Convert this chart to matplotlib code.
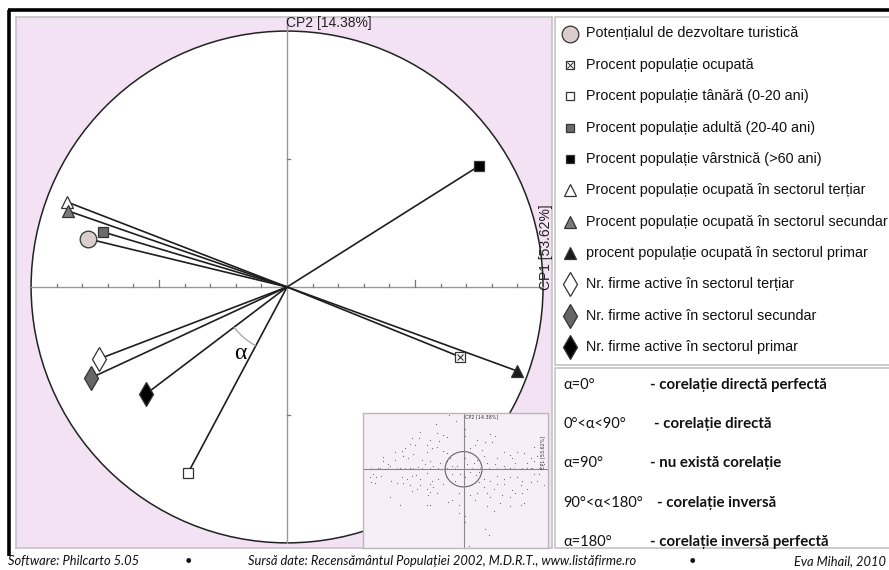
import math
import numpy as np
import matplotlib
matplotlib.use('Agg')
import matplotlib.pyplot as plt
from matplotlib.patches import Circle, Arc, Rectangle

# variabile (in ordinea din legenda)
variabile = ['Potențialul de dezvoltare turistică',
             'Procent populație ocupată',
             'Procent populație tânără (0-20 ani)',
             'Procent populație adultă (20-40 ani)',
             'Procent populație vârstnică (>60 ani)',
             'Procent populație ocupată în sectorul terțiar',
             'Procent populație ocupată în sectorul secundar',
             'procent populație ocupată în sectorul primar',
             'Nr. firme active în sectorul terțiar',
             'Nr. firme active în sectorul secundar',
             'Nr. firme active în sectorul primar']
cp1 = [-0.777, 0.676, -0.387, -0.719, 0.750, -0.859, -0.855, 0.898, -0.734, -0.766, -0.551]
cp2 = [0.188, -0.273, -0.727, 0.215, 0.473, 0.332, 0.297, -0.328, -0.281, -0.355, -0.418]

axa1 = 'CP1 [53.62%]'
axa2 = 'CP2 [14.38%]'

# norul de indivizi din fereastra mica (unitati ale ferestrei)
ind_x = [-42, -22, -82, -130, -155, -132, -78, -62, -50, -72, -100, -160, -175, -205, -185,
         -240, -240, -205, -165, -150, -110, -95, -60, -50, -125, -100, -70, -90, -115, -137,
         -160, -190, -220, -255, -270, -280, -260, -245, -275, -265, -185, -155, -142, -130,
         -110, -95, -75, -50, -35, -20, -10, -25, -60, -90, -110, -100, -80, -105, -140, -160,
         -155, -180, -220, -190, -110, -100, -45, -35, -15, -15, -15, 5, 5, 15, 65, 75, 70, 70,
         90, 115, 40, 35, 20, 45, 60, 38, 45, 20, 5, 10, 5, 5, 5, 20, 35, 55, 45, 60, 80, 95,
         85, 65, 40, 70, 100, 120, 95, 120, 140, 145, 160, 180, 200, 210, 220, 190, 155, 140,
         170, 205, 230, 240, 210, 100, 120, 140, 160, 175, 200, 220, 240, 190, 170, 155, 175,
         145, 120, 100, 80, 60, 180, 170, 140, 110, 90, 80, 140, 190, 210, 225, -235, -225,
         -35, -50, -55, -40, 30, 40, -145, -110, -80, -180, -170, -130, -100, -200, -215]
ind_y = [170, 150, 142, 115, 97, 97, 113, 107, 100, 87, 90, 80, 65, 53, 57,
         37, 25, 30, 35, 47, 55, 65, 57, 50, 30, 25, 20, 10, 15, 7,
         5, 3, 10, 3, -15, -25, -23, -20, -40, -43, -25, -20, -17, -30,
         -13, -35, -30, -25, -15, 10, -15, -35, -45, -55, -60, -70, -75, -80, -60, -50,
         -67, -43, -85, -110, -110, -110, -103, -95, -75, -110, -135, -145, -165, -240, -185, -205, -115, -75,
         -60, -80, -75, -95, -80, -40, -55, -17, -10, -10, -25, 15, 35, 105, 125, 65, 75, 60, 30, 40, 110, 105,
         85, 85, 90, 20, 35, 55, 15, 10, 45, 35, 55, 50, 35, 25, 40, 20, 20, 5,
         0, 5, 5, 15, 70, -20, -30, -25, -25, -35, -40, -35, -50, -60, -50, -75, -75,
         -65, -45, -45, -35, -30, -105, -110, -115, -105, -130, -85, -85, 5, -15, -15, 0, 15,
         10, 25, 5, 35, 20, 30, 75, 75, 70, 40, -30, -50, -45, -43, -35]

unghiuri = ['α=0°', '0°<α<90°', 'α=90°', '90°<α<180°', 'α=180°']
interpretare = ['- corelație directă perfectă', '- corelație directă', '- nu există corelație',
                '- corelație inversă', '- corelație inversă perfectă']

# stiluri markere (marker, culoare interior, marime in cerc, marime in legenda)
stiluri = [('o', '#d9cdcd', 12, 12),
           ('s', 'white', 7, 6),
           ('s', 'white', 7.5, 6),
           ('s', '#6b6b6b', 7.5, 6),
           ('s', 'black', 7.5, 6),
           ('^', 'white', 9, 9),
           ('^', '#7a7a7a', 9, 9),
           ('^', '#1a1a1a', 9, 9),
           ('d', 'white', 12, 12),
           ('d', '#666666', 12, 12),
           ('d', 'black', 12, 12)]

W, H = 889, 570
fig = plt.figure(figsize=(W / 100, H / 100), dpi=100)
fig.patch.set_facecolor('white')

# box in pixeli -> fractii din figura
def px_box(x0, y0, x1, y1):
    return [x0 / W, 1 - y1 / H, (x1 - x0) / W, (y1 - y0) / H]

# cercul corelatiilor
ax = fig.add_axes(px_box(16, 17, 552, 548))
ax.set_facecolor('#f3e2f3')
ax.set_xlim(-1.059, 1.035)
ax.set_ylim(-1.020, 1.055)
ax.set_xticks([])
ax.set_yticks([])
for s in ax.spines.values():
    s.set_color('#c4c4c4')
    s.set_linewidth(1.2)

ax.add_patch(Circle((0, 0), 1, facecolor='white', edgecolor='#222222', lw=1.1, zorder=1))
ax.plot([-1, 1], [0, 0], color='#999999', lw=1, zorder=2)
ax.plot([0, 0], [-1, 1.05], color='#999999', lw=1, zorder=2)
for t in np.arange(-9, 10):
    if t == 0:
        continue
    h = 0.028 if abs(t) == 5 else 0.013
    ax.plot([t / 10, t / 10], [0, h], color='#777777', lw=0.9, zorder=2)
for t in [-0.5, 0.5]:
    ax.plot([0, 0.013], [t, t], color='#777777', lw=0.9, zorder=2)

for i in range(len(variabile)):
    ax.plot([0, cp1[i]], [0, cp2[i]], color='#1e1e1e', lw=1.2, zorder=3)
    m, fc, ms, _ = stiluri[i]
    ax.plot(cp1[i], cp2[i], marker=m, ms=ms, mfc=fc, mec='#333333', mew=0.9, zorder=4)
    if i == 1:
        ax.plot(cp1[i], cp2[i], marker='x', ms=5, mec='#333333', mew=0.8, zorder=5)

# unghiul alfa intre doua variabile
a1 = math.degrees(math.atan2(cp2[10], cp1[10])) % 360
a2 = math.degrees(math.atan2(cp2[2], cp1[2])) % 360
ax.add_patch(Arc((0, 0), 0.52, 0.52, theta1=a1, theta2=a2, color='#aaaaaa', lw=1, zorder=3))
ax.text(-0.184, -0.258, 'α', fontsize=17, family='Liberation Serif', ha='center', va='center', zorder=5)

ax.text(-0.004, 1.058, axa2, fontsize=10, family='Liberation Sans', ha='left', va='top', color='#222222')
ax.text(1.012, -0.012, axa1, fontsize=10, family='Liberation Sans', ha='left', va='center',
        rotation=90, rotation_mode='anchor', color='#222222', zorder=6)

# fereastra mica cu indivizii
axi = fig.add_axes(px_box(363, 413, 548, 548))
axi.set_facecolor('#f7eff7')
axi.set_xlim(-300, 252)
axi.set_ylim(-245, 175)
axi.set_xticks([])
axi.set_yticks([])
for s in axi.spines.values():
    s.set_color('#b8b8b8')
    s.set_linewidth(1)
axi.plot([-300, 250], [0, 0], color='#888888', lw=0.8)
axi.plot([0, 0], [-245, 175], color='#888888', lw=0.8)
for t in range(-275, 250, 25):
    axi.plot([t, t], [0, 5], color='#888888', lw=0.6)
axi.add_patch(Circle((0, 0), 55, facecolor='none', edgecolor='#666666', lw=0.8))
axi.scatter(ind_x, ind_y, s=0.7, color='#6a6a6a', zorder=3, linewidths=0)
axi.text(5, 172, axa2, fontsize=3.5, va='top', ha='left', color='#333333')
axi.text(245, 0, axa1, fontsize=3.5, va='bottom', ha='left', rotation=90, rotation_mode='anchor', color='#333333')

# suprapunere pentru chenar, legenda si sursa
ov = fig.add_axes([0, 0, 1, 1], zorder=10)
ov.set_xlim(0, W)
ov.set_ylim(H, 0)
ov.axis('off')

ov.plot([8, W], [10, 10], color='black', lw=2.6, solid_capstyle='butt')
ov.plot([9, 9], [10, 556], color='black', lw=2.6, solid_capstyle='butt')

ov.add_patch(Rectangle((555, 17), 340, 348, facecolor='white', edgecolor='#c4c4c4', lw=1.2))
ov.add_patch(Rectangle((555, 368), 340, 180, facecolor='white', edgecolor='#c4c4c4', lw=1.2))

for i, lab in enumerate(variabile):
    y = 33.5 + i * 31.35
    m, fc, _, ms = stiluri[i]
    ov.plot(570, y, marker=m, ms=ms, mfc=fc, mec='#333333', mew=0.9)
    if i == 1:
        ov.plot(570, y, marker='x', ms=4, mec='#333333', mew=0.7)
    ov.text(586, y, lab, fontsize=10.4, family='Liberation Sans', va='center', ha='left', color='#111111')

xs_text = [650, 654, 650, 657, 650]
for i in range(len(unghiuri)):
    y = 385 + i * 39.2
    ov.text(563, y, unghiuri[i], fontsize=10.5, family='Lato', va='center', ha='left', color='#111111')
    ov.text(xs_text[i], y, interpretare[i], fontsize=10.8, family='Lato', fontweight='bold',
            va='center', ha='left', color='#111111')

sursa = dict(fontsize=9.3, family='Lato', style='italic', va='center', color='#111111')
ov.text(8, 561, 'Software: Philcarto 5.05', ha='left', **sursa)
ov.text(188, 561, '•', ha='center', **sursa)
ov.text(248, 561, 'Sursă date: Recensământul Populației 2002, M.D.R.T., www.listăfirme.ro', ha='left', **sursa)
ov.text(692, 561, '•', ha='center', **sursa)
ov.text(886, 561, 'Eva Mihail, 2010', ha='right', **sursa)

fig.savefig('out.png', dpi=100)
